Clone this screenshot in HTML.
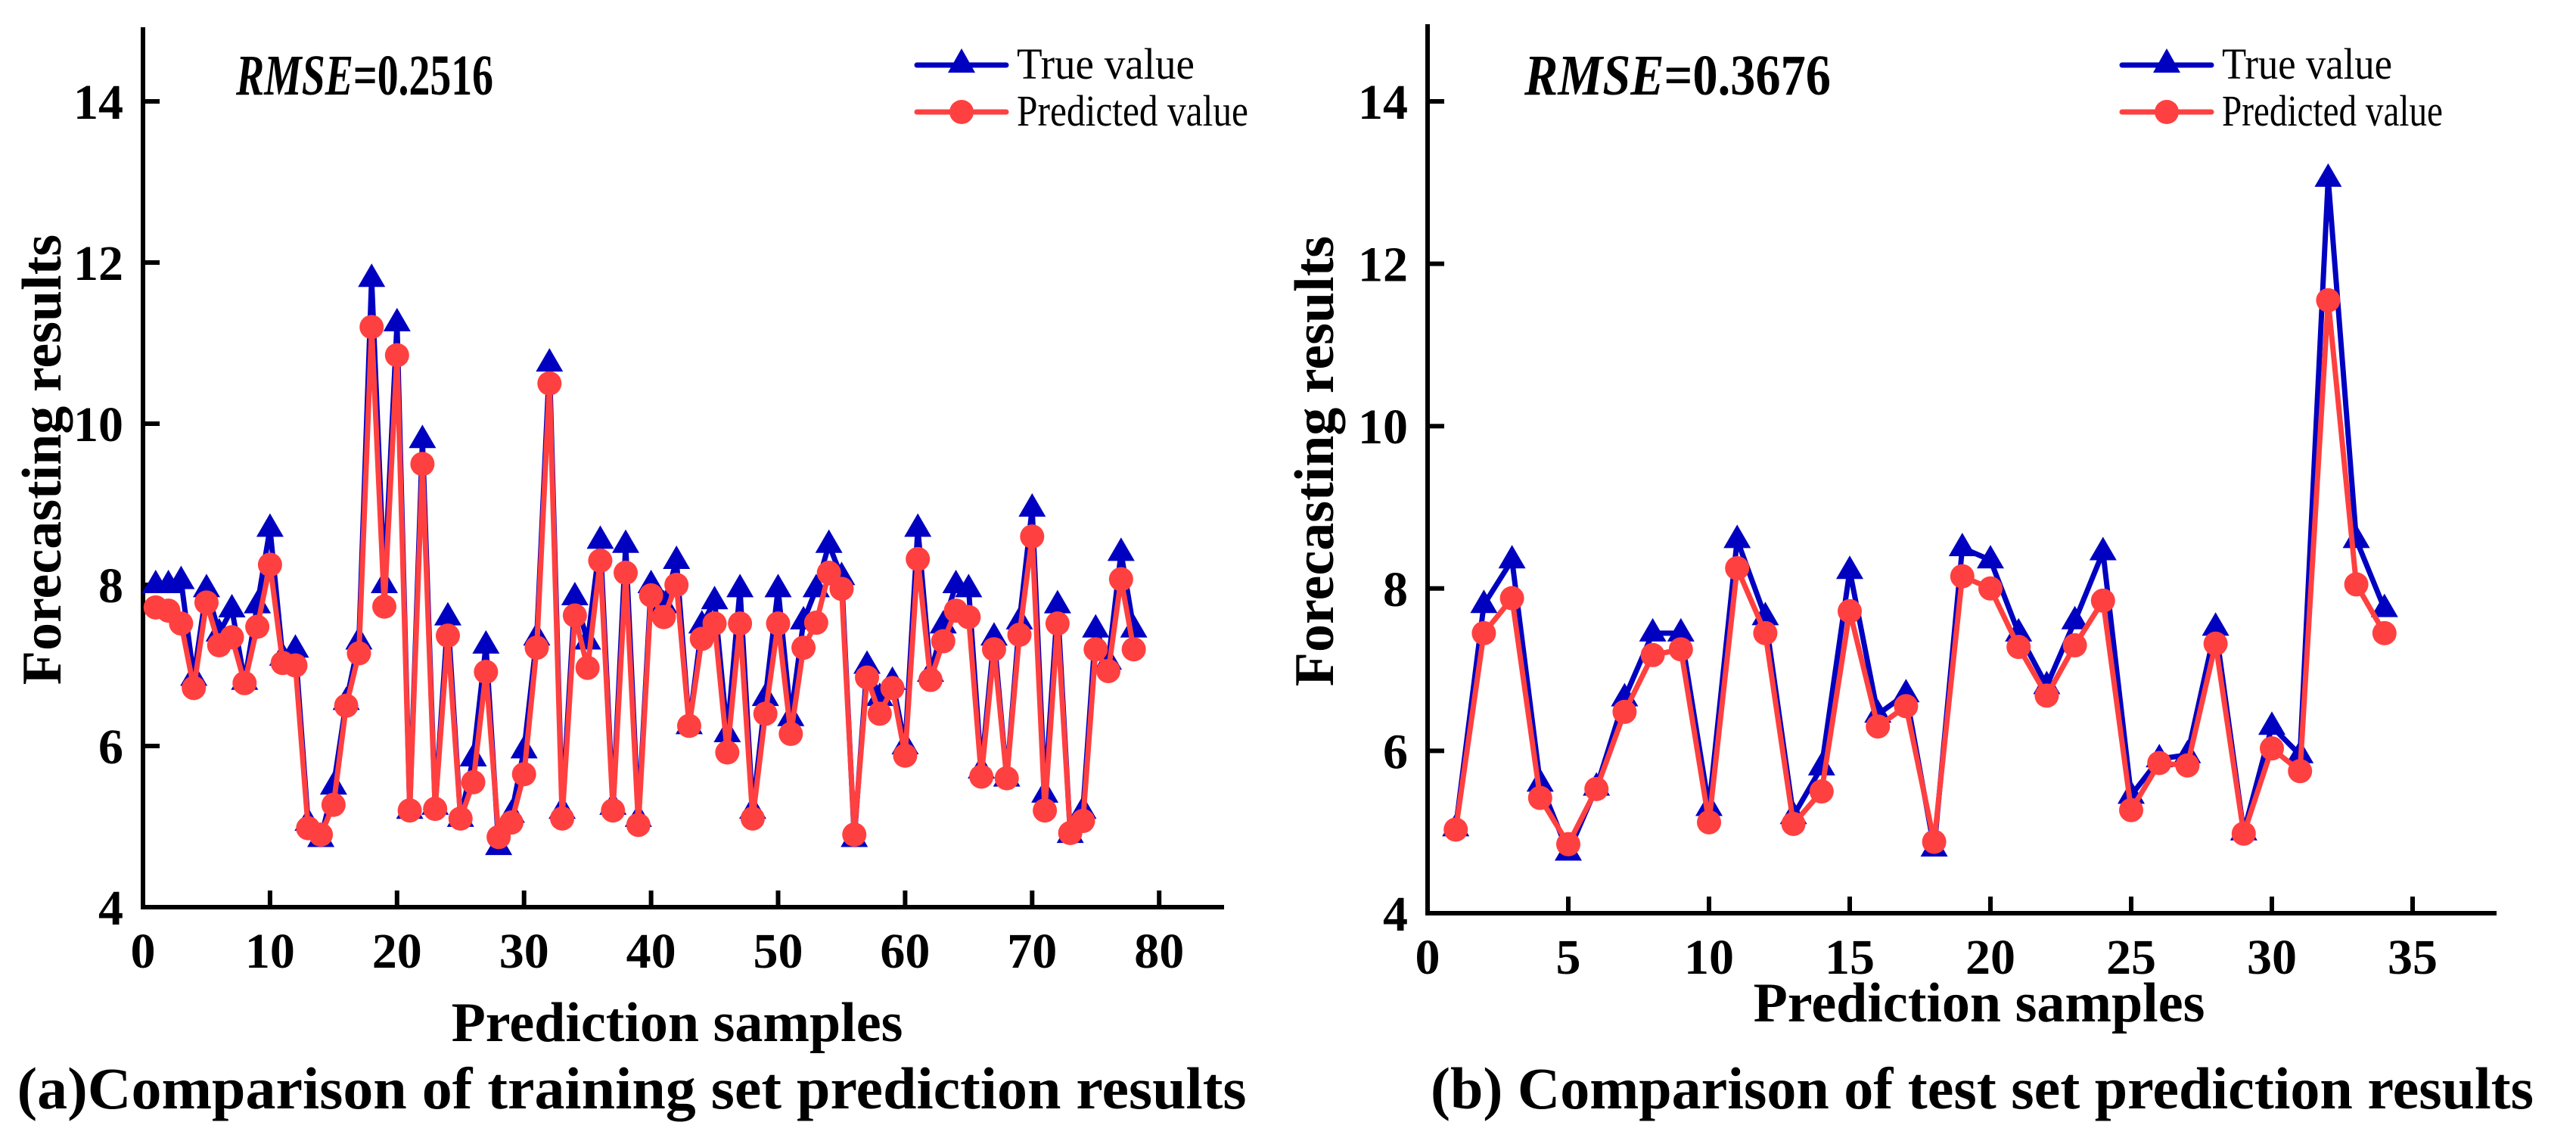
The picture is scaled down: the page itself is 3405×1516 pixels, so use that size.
<!DOCTYPE html>
<html><head><meta charset="utf-8"><style>
html,body{margin:0;padding:0;background:#fff;}
svg{display:block;font-family:"Liberation Serif",serif;}
</style></head><body>
<svg id="fig" width="3405" height="1516" viewBox="0 0 3405 1516">
<g id="chartA"></g>
<g id="chartB"></g>
</svg>
<script>
const trainTrue=[8.0,8.0,8.05,6.85,7.95,7.4,7.7,6.8,7.75,8.7,7.1,7.2,5.05,4.85,5.5,6.55,7.3,11.8,8.0,11.25,5.2,9.8,5.25,7.6,5.1,5.85,7.25,4.75,5.15,5.95,7.35,10.75,5.2,7.85,7.3,8.55,5.25,8.5,5.1,8.0,7.75,8.3,6.25,7.5,7.8,6.15,7.95,5.2,6.6,7.95,6.35,7.55,7.95,8.5,8.1,4.85,7.0,6.6,6.8,6.0,8.7,6.9,7.5,8.0,7.95,5.7,7.35,5.6,7.55,8.95,5.4,7.75,4.9,5.2,7.45,7.05,8.4,7.45];
const trainPred=[7.72,7.68,7.52,6.72,7.78,7.25,7.35,6.78,7.48,8.25,7.03,7.0,4.98,4.9,5.27,6.5,7.15,11.2,7.73,10.85,5.2,9.5,5.22,7.37,5.1,5.55,6.92,4.87,5.05,5.65,7.22,10.5,5.1,7.62,6.97,8.3,5.2,8.15,5.02,7.87,7.6,8.0,6.25,7.33,7.52,5.92,7.52,5.1,6.4,7.52,6.15,7.22,7.53,8.15,7.95,4.9,6.85,6.4,6.72,5.88,8.32,6.82,7.3,7.68,7.6,5.62,7.2,5.6,7.38,8.6,5.2,7.52,4.92,5.07,7.2,6.93,8.07,7.2];
const testTrue=[5.05,7.8,8.35,5.6,4.75,5.55,6.65,7.45,7.45,5.3,8.6,7.65,5.2,5.8,8.22,6.45,6.7,4.8,8.5,8.35,7.45,6.8,7.6,8.45,5.45,5.9,5.95,7.52,5.0,6.3,5.95,13.05,8.6,7.75];
const testPred=[5.03,7.45,7.88,5.42,4.85,5.53,6.48,7.18,7.25,5.12,8.25,7.45,5.1,5.5,7.72,6.3,6.55,4.88,8.15,8.0,7.28,6.68,7.3,7.85,5.27,5.85,5.82,7.32,4.98,6.03,5.75,11.55,8.05,7.45];
const trainXTicks=[0,10,20,30,40,50,60,70,80];
const testXTicks=[0,5,10,15,20,25,30,35];
const yTicks=[4,6,8,10,12,14];

const NS="http://www.w3.org/2000/svg";
function mk(parent,tag,attrs,text){const e=document.createElementNS(NS,tag);for(const k in attrs)e.setAttribute(k,attrs[k]);if(text!==undefined)e.textContent=text;parent.appendChild(e);return e;}

function drawChart(g,cfg){
  const X=v=>cfg.x0+v*cfg.xs;
  const Y=v=>cfg.y0-(v-4)*cfg.ys;
  let a=mk(g,'line',{x1:cfg.x0,y1:cfg.y0,x2:cfg.xEnd,y2:cfg.y0,stroke:'#000','stroke-width':6});
  
  
  a=mk(g,'line',{x1:cfg.x0,y1:cfg.y0+3,x2:cfg.x0,y2:cfg.yTop,stroke:'#000','stroke-width':6});
  
  
  cfg.xt.forEach(t=>{
    const tk=mk(g,'line',{x1:X(t),y1:cfg.y0,x2:X(t),y2:cfg.y0-22,stroke:'#000','stroke-width':6});
    
    
    const lb=mk(g,'text',{x:X(t),y:cfg.y0+80,'text-anchor':'middle','font-size':66,'font-weight':'bold'},String(t));
    
    
  });
  yTicks.forEach(t=>{
    const tk=mk(g,'line',{x1:cfg.x0,y1:Y(t),x2:cfg.x0+22,y2:Y(t),stroke:'#000','stroke-width':6});
    
    
    const lb=mk(g,'text',{x:cfg.x0-26,y:Y(t)+23,'text-anchor':'end','font-size':66,'font-weight':'bold'},String(t));
    
    
  });
  const tp=cfg.tv.map((v,i)=>X(i+1)+','+Y(v)).join(' ');
  const pp=cfg.pv.map((v,i)=>X(i+1)+','+Y(v)).join(' ');
  const l1=mk(g,'polyline',{points:tp,fill:'none',stroke:'#0000c0','stroke-width':7,'stroke-linejoin':'round'});
  
  
  cfg.tv.forEach((v,i)=>{
    const cx=X(i+1),cy=Y(v);
    const m=mk(g,'polygon',{points:`${cx},${cy-20} ${cx-18},${cy+11} ${cx+18},${cy+11}`,fill:'#0000c0'});
    
    
  });
  const l2=mk(g,'polyline',{points:pp,fill:'none',stroke:'#ff4040','stroke-width':7,'stroke-linejoin':'round'});
  
  
  cfg.pv.forEach((v,i)=>{
    const m=mk(g,'circle',{cx:X(i+1),cy:Y(v),r:16,fill:'#ff4040'});
    
    
  });
  const r=mk(g,'text',{x:cfg.rmseX,y:125,'font-size':76,'font-weight':'bold',textLength:cfg.rmseW,lengthAdjust:'spacingAndGlyphs'});
  
  
  mk(r,'tspan',{'font-style':'italic'},'RMSE');
  mk(r,'tspan',{},'='+cfg.rmse);
  const lx=cfg.legX;
  let e=mk(g,'line',{x1:lx,y1:86,x2:lx+118,y2:86,stroke:'#0000c0','stroke-width':7,'stroke-linecap':'round'});
  
  
  e=mk(g,'polygon',{points:`${lx+59},${64} ${lx+41},${96} ${lx+77},${96}`,fill:'#0000c0'});
  
  
  e=mk(g,'text',{x:lx+132,y:104,'font-size':58,textLength:cfg.legW1,lengthAdjust:'spacingAndGlyphs'},'True value');
  
  
  e=mk(g,'line',{x1:lx,y1:148,x2:lx+118,y2:148,stroke:'#ff4040','stroke-width':7,'stroke-linecap':'round'});
  
  
  e=mk(g,'circle',{cx:lx+59,cy:148,r:16,fill:'#ff4040'});
  
  
  e=mk(g,'text',{x:lx+132,y:166,'font-size':58,textLength:cfg.legW2,lengthAdjust:'spacingAndGlyphs'},'Predicted value');
  
  
  const cy=(cfg.y0+cfg.yTop)/2-10;
  e=mk(g,'text',{x:cfg.ytX,y:cy,'text-anchor':'middle','font-size':74,'font-weight':'bold',transform:`rotate(-90 ${cfg.ytX} ${cy})`},'Forecasting results');
  
  
  e=mk(g,'text',{x:cfg.xtX,y:cfg.xtY,'text-anchor':'middle','font-size':74,'font-weight':'bold'},'Prediction samples');
  
  
  e=mk(g,'text',{x:cfg.capX,y:1465,'text-anchor':'middle','font-size':78,'font-weight':'bold',textLength:cfg.capW,lengthAdjust:'spacingAndGlyphs'},cfg.caption);
  
  
}

drawChart(document.getElementById('chartA'),{x0:189,xs:16.79,y0:1199,ys:106.5,yTop:36,xEnd:1618,
  xt:trainXTicks,tv:trainTrue,pv:trainPred,rmse:'0.2516',rmseX:312,rmseW:340,legX:1212,legW1:235,legW2:306,ytX:80,xtX:895,xtY:1376,
  capX:835,capW:1625,caption:'(a)Comparison of training set prediction results'});
drawChart(document.getElementById('chartB'),{x0:1887,xs:37.2,y0:1207,ys:107.3,yTop:32,xEnd:3300,
  xt:testXTicks,tv:testTrue,pv:testPred,rmse:'0.3676',rmseX:2015,rmseW:405,legX:2805,legW1:225,legW2:292,ytX:1762,xtX:2616,xtY:1350,
  capX:2620,capW:1458,caption:'(b) Comparison of test set prediction results'});
</script>
</body></html>
